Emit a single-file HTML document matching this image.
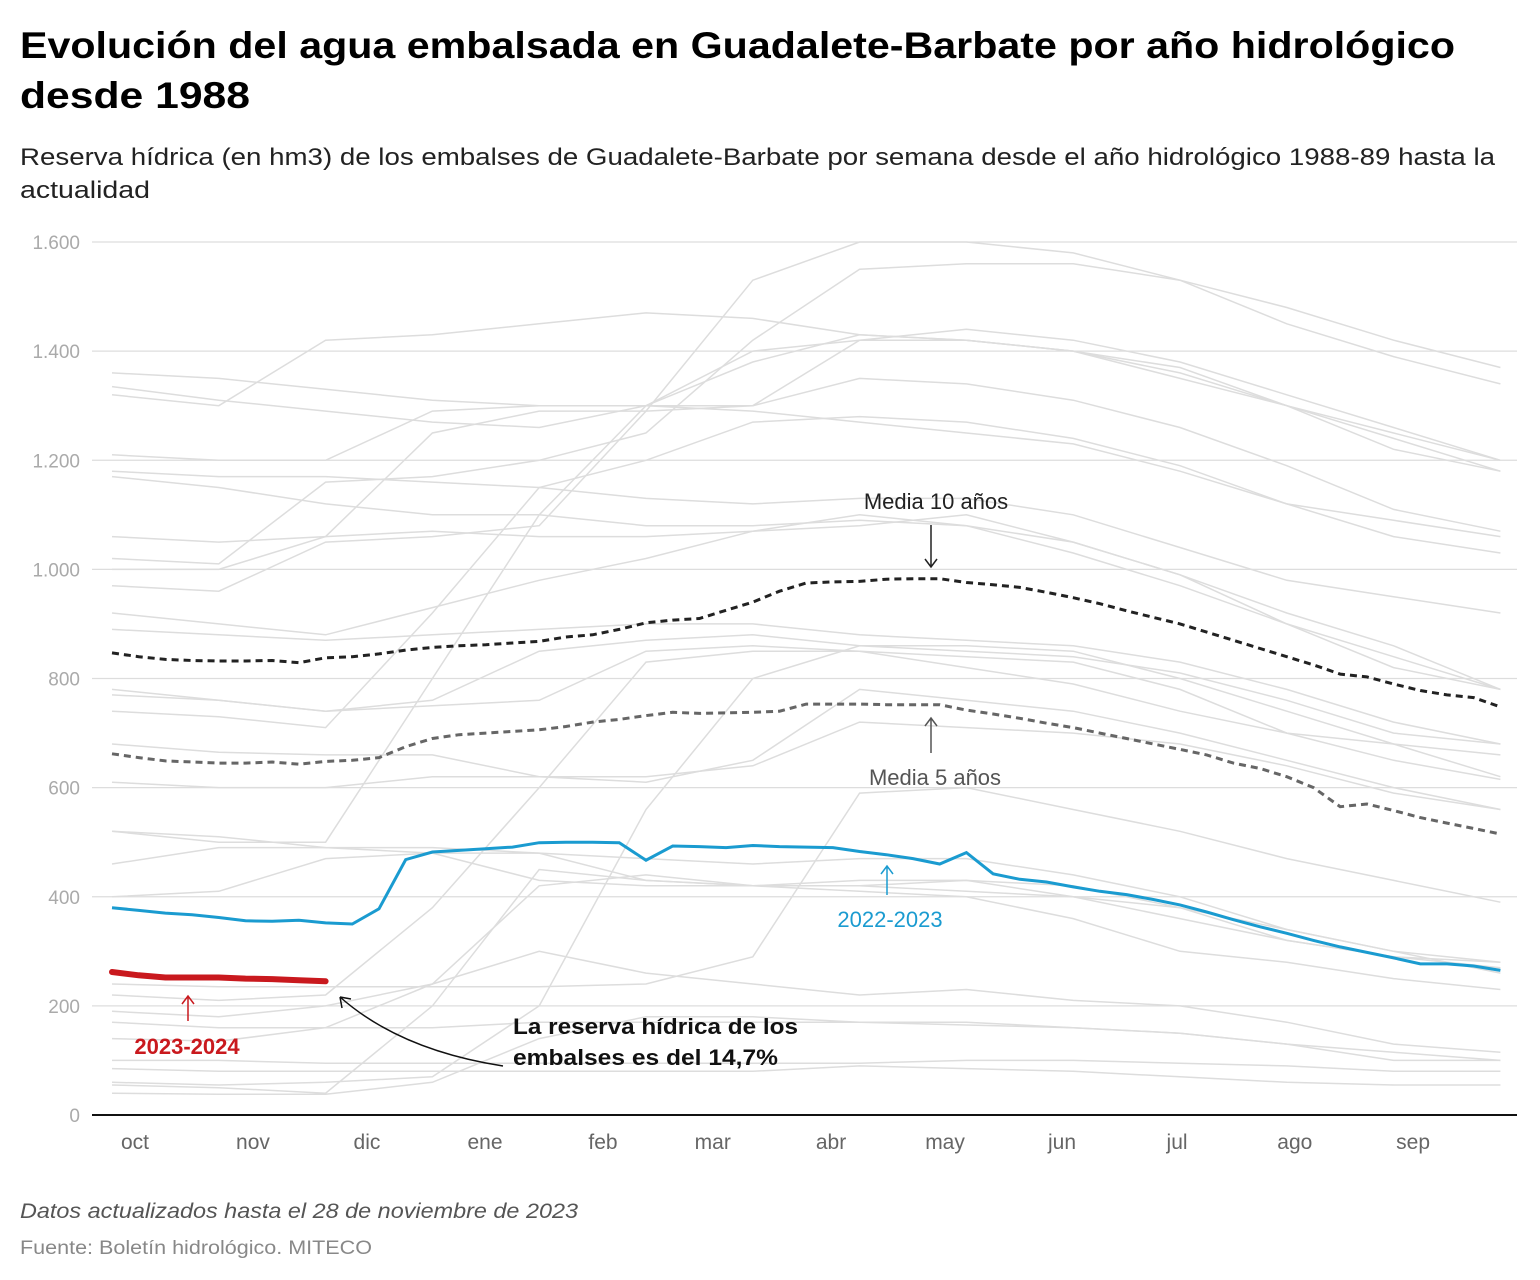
<!DOCTYPE html>
<html><head><meta charset="utf-8"><style>
body{margin:0;background:#fff;}
svg{display:block;font-family:"Liberation Sans",sans-serif;}
</style></head><body>
<svg id="chart" width="1540" height="1280" viewBox="0 0 1540 1280">
<text x="20" y="58" font-size="37" font-weight="bold" fill="#000" textLength="1435" lengthAdjust="spacingAndGlyphs">Evolución del agua embalsada en Guadalete-Barbate por año hidrológico</text>
<text x="20" y="108" font-size="37" font-weight="bold" fill="#000" textLength="230" lengthAdjust="spacingAndGlyphs">desde 1988</text>
<text x="20" y="165" font-size="24" fill="#222" textLength="1475" lengthAdjust="spacingAndGlyphs">Reserva hídrica (en hm3) de los embalses de Guadalete-Barbate por semana desde el año hidrológico 1988-89 hasta la</text>
<text x="20" y="198" font-size="24" fill="#222" textLength="130" lengthAdjust="spacingAndGlyphs">actualidad</text>
<g id="grid"></g><g id="gray"></g><g id="main"></g><g id="ann"></g>
<text x="20" y="1218" font-size="21" font-style="italic" fill="#555" textLength="558" lengthAdjust="spacingAndGlyphs">Datos actualizados hasta el 28 de noviembre de 2023</text>
<text x="20" y="1254" font-size="19" fill="#888" textLength="352" lengthAdjust="spacingAndGlyphs">Fuente: Boletín hidrológico. MITECO</text>
</svg>
<script>
const yTicks=[0,200,400,600,800,1000,1200,1400,1600];
const yTickLabels=["0","200","400","600","800","1.000","1.200","1.400","1.600"];
const months=["oct","nov","dic","ene","feb","mar","abr","may","jun","jul","ago","sep"];
const monthWeek=[0.86,5.28,9.55,13.97,18.39,22.5,26.93,31.2,35.58,39.89,44.3,48.73];
const grayWeeks=[0,4,8,12,16,20,24,28,32,36,40,44,48,52];
const grayYears=[
[1360,1350,1330,1310,1300,1300,1300,1420,1440,1420,1380,1320,1260,1200],
[1335,1310,1290,1270,1260,1300,1380,1430,1420,1400,1360,1300,1240,1180],
[1320,1300,1420,1430,1450,1470,1460,1430,1420,1400,1370,1300,1220,1180],
[1210,1200,1200,1290,1300,1300,1290,1270,1250,1230,1180,1120,1090,1060],
[1180,1170,1170,1160,1150,1130,1120,1130,1130,1100,1040,980,950,920],
[1170,1150,1120,1100,1100,1080,1080,1090,1080,1050,990,920,860,780],
[1060,1050,1060,1070,1060,1060,1070,1080,1100,1050,990,900,820,780],
[1020,1010,1160,1170,1200,1250,1420,1550,1560,1560,1530,1480,1420,1370],
[1000,1000,1060,1250,1290,1290,1300,1350,1340,1310,1260,1190,1110,1070],
[970,960,1050,1060,1080,1290,1530,1600,1600,1580,1530,1450,1390,1340],
[920,900,880,930,980,1020,1070,1100,1080,1030,970,900,840,780],
[890,880,870,880,890,900,900,880,870,860,830,780,720,680],
[780,760,740,750,760,850,860,850,840,830,780,700,650,615],
[770,760,740,760,850,870,880,860,860,850,800,740,680,620],
[740,730,710,920,1150,1200,1270,1280,1270,1240,1190,1120,1060,1030],
[680,665,660,660,620,610,650,780,760,740,700,650,600,560],
[610,600,600,620,620,620,640,720,710,700,680,640,590,560],
[520,510,490,480,480,470,460,470,470,440,400,340,300,280],
[520,500,500,800,1100,1300,1400,1420,1420,1400,1350,1300,1250,1200],
[460,490,490,490,480,430,420,420,410,400,380,340,300,260],
[400,410,470,480,430,420,420,410,400,360,300,280,250,230],
[240,235,235,235,235,240,290,590,600,560,520,470,430,390],
[220,210,220,380,600,830,850,850,820,790,740,700,680,660],
[190,180,200,240,420,440,420,430,430,420,380,320,290,280],
[140,135,160,240,300,260,240,220,230,210,200,170,130,115],
[100,100,95,95,95,95,95,95,100,100,95,90,80,80],
[85,80,80,80,80,80,80,90,85,80,70,60,55,55],
[60,55,60,70,200,560,800,860,850,840,810,760,700,680],
[40,38,38,60,140,180,180,170,170,160,150,130,100,100],
[55,50,40,200,450,430,420,420,430,400,360,320,290,270],
[170,160,160,160,170,170,170,170,165,160,150,130,115,100]
];
const year2223=[380,375,370,367,362,356,355,357,352,350,378,468,482,485,488,491,499,500,500,499,467,493,492,490,494,492,491,490,483,477,470,460,481,442,432,427,418,410,404,395,385,372,358,345,333,320,308,298,288,277,277,273,265];
const year2324=[262,256,252,252,252,250,249,247,245];
const media10=[847,840,835,833,832,832,833,829,838,840,845,852,857,860,862,865,868,876,880,890,902,907,910,925,940,960,975,977,978,982,983,983,976,972,967,958,948,937,924,912,900,885,870,855,840,825,808,803,790,778,770,765,748];
const media5=[662,655,649,647,645,645,647,643,648,650,655,675,690,697,700,703,706,712,720,725,732,738,736,737,738,740,753,753,753,752,752,752,742,735,727,718,710,700,690,680,670,660,645,635,620,600,565,570,558,545,535,525,515];
const NS="http://www.w3.org/2000/svg";
const X=w=>112+w*26.7;
const Y=v=>1115-v*(873/1600);
function el(tag,attrs,parent){const e=document.createElementNS(NS,tag);for(const k in attrs)e.setAttribute(k,attrs[k]);parent.appendChild(e);return e;}
const grid=document.getElementById('grid'),gray=document.getElementById('gray'),main=document.getElementById('main');
yTicks.forEach((t,i)=>{
 if(t>0){const l=el('line',{x1:92,x2:1517,y1:Y(t),y2:Y(t),stroke:'#ddd','stroke-width':1.2},grid);
 
 }
 const tx=el('text',{x:80,y:Y(t)+7,'text-anchor':'end','font-size':19,fill:'#aaa'},grid);tx.textContent=yTickLabels[i];
 
 
});
months.forEach((m,i)=>{const tx=el('text',{x:X(monthWeek[i]),y:1149,'text-anchor':'middle','font-size':21,fill:'#666'},grid);tx.textContent=m;
 
 });
const axis=el('line',{x1:92,x2:1517,y1:1115,y2:1115,stroke:'#111','stroke-width':2},grid);


const pts=(arr,wk)=>arr.map((v,i)=>X(wk?wk[i]:i).toFixed(1)+','+Y(v).toFixed(1)).join(' ');
grayYears.forEach(s=>{const p=el('polyline',{points:pts(s,grayWeeks),fill:'none',stroke:'#ddd','stroke-width':1.5},gray);
 
 });
const m10=el('polyline',{points:pts(media10),fill:'none',stroke:'#222','stroke-width':3,'stroke-dasharray':'7,5'},main);


const m5=el('polyline',{points:pts(media5),fill:'none',stroke:'#666','stroke-width':3,'stroke-dasharray':'7,5'},main);


const b=el('polyline',{points:pts(year2223),fill:'none',stroke:'#1a9bd0','stroke-width':3},main);


const r=el('polyline',{points:pts(year2324),fill:'none',stroke:'#c9191e','stroke-width':6,'stroke-linecap':'round'},main);


</script>
<svg style="position:absolute;left:0;top:0" width="1540" height="1280">
<g font-family="Liberation Sans, sans-serif">
<text x="936" y="509" font-size="22" fill="#222" text-anchor="middle">Media 10 años</text>
<path d="M931,525 L931,567 M925,559 L931,567 L937,559" stroke="#222" fill="none" stroke-width="1.5"/>
<text x="935" y="785" font-size="22" fill="#555" text-anchor="middle">Media 5 años</text>
<path d="M931,753 L931,718 M925,726 L931,718 L937,726" stroke="#555" fill="none" stroke-width="1.5"/>
<text x="890" y="927" font-size="22" fill="#1a9bd0" text-anchor="middle">2022-2023</text>
<path d="M887,895 L887,866 M881,874 L887,866 L893,874" stroke="#1a9bd0" fill="none" stroke-width="1.5"/>
<text x="187" y="1054" font-size="22" font-weight="bold" fill="#c9191e" text-anchor="middle">2023-2024</text>
<path d="M188,1021 L188,996 M182,1004 L188,996 L194,1004" stroke="#c9191e" fill="none" stroke-width="1.5"/>
<text x="513" y="1034" font-size="22" font-weight="bold" fill="#111" textLength="285" lengthAdjust="spacingAndGlyphs">La reserva hídrica de los</text>
<text x="513" y="1065" font-size="22" font-weight="bold" fill="#111" textLength="265" lengthAdjust="spacingAndGlyphs">embalses es del 14,7%</text>
<path d="M503,1066 Q400,1050 340,997 M340,997 L342,1008 M340,997 L351,999" stroke="#111" fill="none" stroke-width="1.5"/>
</g></svg>
</body></html>
